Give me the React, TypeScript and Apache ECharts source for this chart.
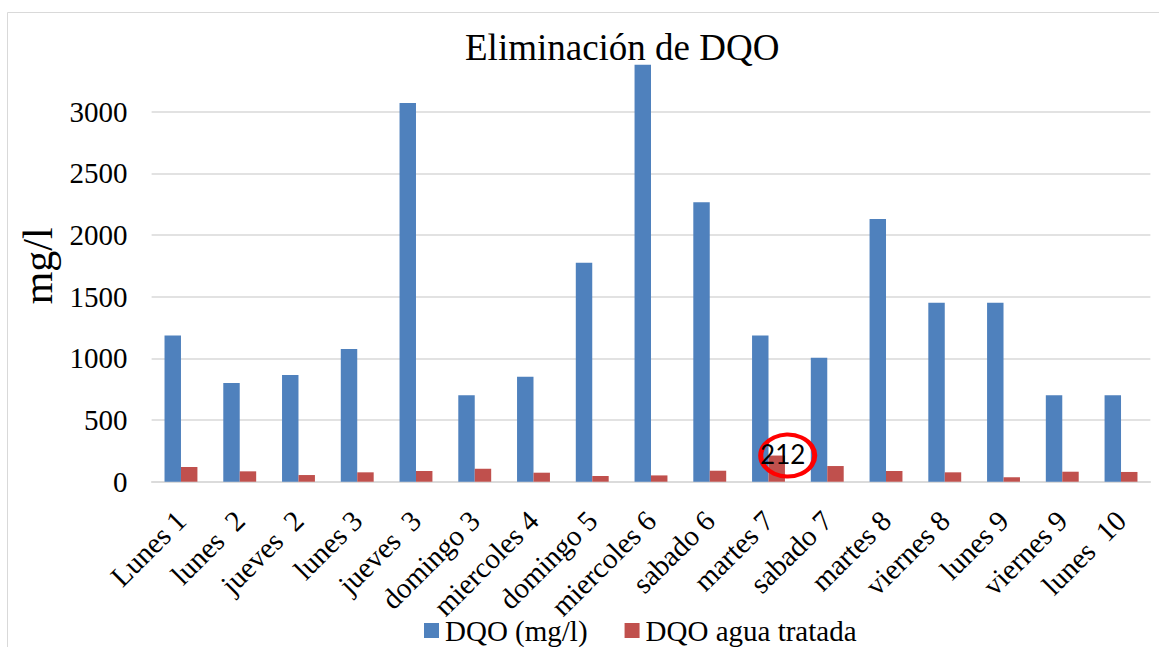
import React, { useEffect, useRef } from "react";
import * as echarts from "echarts";

const categories = [
  "Lunes 1", "lunes  2", "jueves  2", "lunes 3", "jueves  3", "domingo 3",
  "miercoles 4", "domingo 5", "miercoles 6", "sabado 6", "martes 7", "sabado 7",
  "martes 8", "viernes 8", "lunes 9", "viernes 9", "lunes  10",
];
const dqoValues = [1185, 800, 865, 1075, 3070, 700, 850, 1775, 3380, 2265, 1185, 1005, 2130, 1450, 1450, 700, 700];
const dqoTratada = [119, 84, 54, 76, 87, 105, 73, 46, 51, 89, 212, 127, 87, 76, 36, 81, 79];
const yTicks = { min: 0, max: 3500, interval: 500 };
const highlighted = { index: 10, label: "212" };

const serif = "'Liberation Serif', 'Times New Roman', serif";

export default function App() {
  const ref = useRef<HTMLDivElement>(null);
  useEffect(() => {
    if (!ref.current) return;
    const chart = echarts.init(ref.current, null, { renderer: "svg" });
    chart.setOption({
      animation: false,
      backgroundColor: "#ffffff",
      title: {
        text: "Eliminación de DQO",
        left: 465,
        top: 29,
        padding: 0,
        textStyle: { fontFamily: serif, fontSize: 37, fontWeight: "normal", color: "#000" },
      },
      graphic: [
        {
          type: "rect",
          shape: { x: 7.5, y: 12.5, width: 1300, height: 800 },
          style: { fill: "none", stroke: "#d9d9d9", lineWidth: 1 },
          silent: true,
          z: -10,
        },
      ],
      legend: {
        left: 424,
        top: 616,
        itemWidth: 15,
        itemHeight: 15,
        itemGap: 37,
        icon: "rect",
        padding: 0,
        textStyle: { fontFamily: serif, fontSize: 29, color: "#000", padding: [0, 0, 0, 1] },
        data: ["DQO (mg/l)", "DQO agua tratada"],
      },
      grid: { left: 151.6, right: 8.6, top: 50, bottom: 165.3, containLabel: false },
      xAxis: {
        type: "category",
        data: categories,
        axisLine: { lineStyle: { color: "#d9d9d9", width: 1.5 } },
        axisTick: { show: false },
        axisLabel: {
          rotate: 45,
          interval: 0,
          margin: 34,
          fontFamily: serif,
          fontSize: 29,
          color: "#000",
        },
      },
      yAxis: {
        type: "value",
        min: yTicks.min,
        max: yTicks.max,
        interval: yTicks.interval,
        name: "mg/l",
        nameLocation: "middle",
        nameGap: 84,
        nameTextStyle: { fontFamily: serif, fontSize: 42, color: "#000" },
        axisLine: { show: false },
        axisTick: { show: false },
        axisLabel: {
          margin: 24,
          fontFamily: serif,
          fontSize: 29,
          color: "#000",
          showMaxLabel: false,
          formatter: (v: number) => String(v),
        },
        splitLine: { showMaxLine: false, lineStyle: { color: "#d9d9d9", width: 1.5 } },
      },
      series: [
        {
          name: "DQO (mg/l)",
          type: "bar",
          data: dqoValues,
          barWidth: "28%",
          barGap: "0%",
          itemStyle: { color: "#4F81BD" },
        },
        {
          name: "DQO agua tratada",
          type: "bar",
          data: dqoTratada,
          barWidth: "28%",
          barGap: "0%",
          itemStyle: { color: "#C0504D" },
          markPoint: {
            symbol: "circle",
            symbolSize: [54, 42],
            symbolOffset: [11, 0],
            itemStyle: { color: "rgba(255,255,255,0)", borderColor: "#FF0000", borderWidth: 4.5 },
            label: {
              show: true,
              formatter: highlighted.label,
              fontFamily: "Lato, 'Liberation Sans', sans-serif",
              fontSize: 26,
              color: "#000",
              offset: [-5, -2],
            },
            data: [{ coord: [highlighted.index, dqoTratada[highlighted.index]] }],
          },
        },
      ],
    });
    return () => chart.dispose();
  }, []);
  return (
    <div style={{ position: "fixed", left: 0, top: 0, width: 1159, height: 647, overflow: "hidden", background: "#fff" }}>
      <div ref={ref} style={{ width: 1159, height: 647 }} />
    </div>
  );
}
